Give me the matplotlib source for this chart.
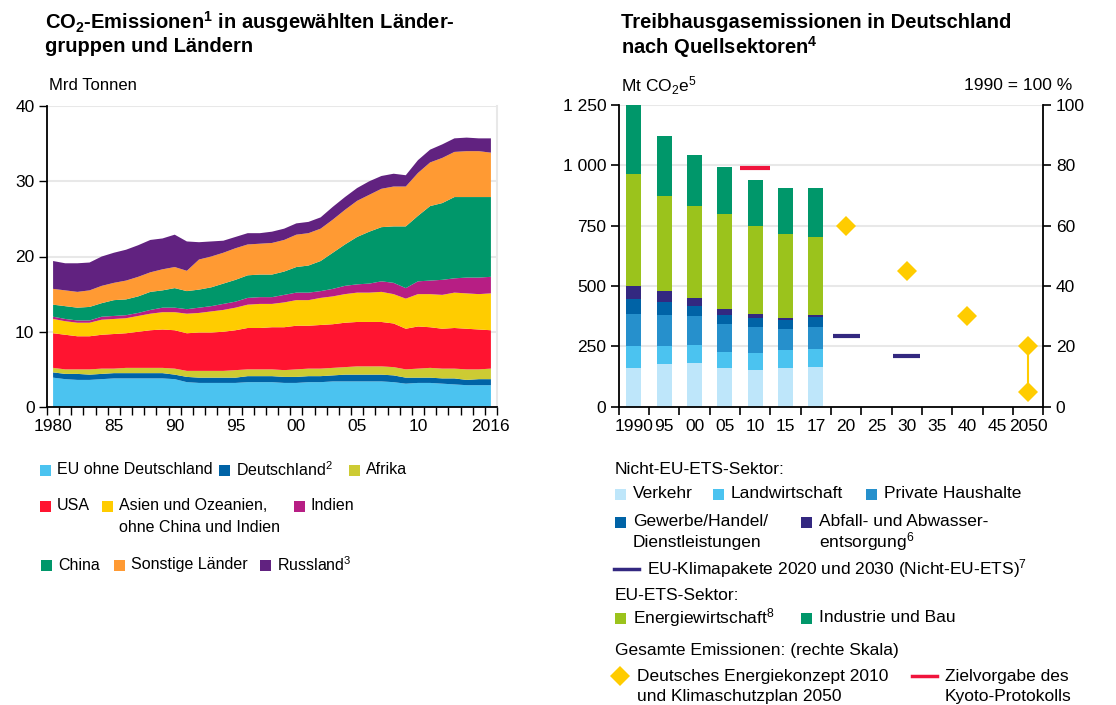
import numpy as np
import matplotlib.pyplot as plt
from matplotlib.patches import Rectangle
from matplotlib.lines import Line2D

plt.rcParams['font.family'] = ['Liberation Sans', 'DejaVu Sans']
plt.rcParams['mathtext.fontset'] = 'custom'
plt.rcParams['mathtext.rm'] = 'Liberation Sans'
plt.rcParams['mathtext.it'] = 'Liberation Sans:italic'
plt.rcParams['mathtext.bf'] = 'Liberation Sans:bold'

# ---- left chart: CO2 emissions by region, Mrd Tonnen ----
years = list(range(1980, 2017))
eu = [3.9, 3.7, 3.6, 3.6, 3.7, 3.8, 3.8, 3.8, 3.8, 3.8, 3.7, 3.3, 3.2, 3.2, 3.2, 3.2, 3.3, 3.3, 3.3,
      3.2, 3.2, 3.3, 3.3, 3.4, 3.4, 3.4, 3.4, 3.4, 3.3, 3.1, 3.2, 3.2, 3.1, 3.0, 2.9, 2.9, 2.9]
de = [0.7, 0.7, 0.8, 0.7, 0.7, 0.7, 0.7, 0.7, 0.7, 0.7, 0.6, 0.7, 0.7, 0.7, 0.7, 0.7, 0.8, 0.8, 0.8,
      0.8, 0.8, 0.8, 0.8, 0.8, 0.9, 0.9, 0.9, 0.9, 0.9, 0.8, 0.7, 0.7, 0.7, 0.8, 0.7, 0.8, 0.8]
afrika = [0.6, 0.6, 0.6, 0.7, 0.7, 0.6, 0.7, 0.7, 0.7, 0.7, 0.8, 0.8, 0.9, 0.9, 0.9, 1.0, 0.9, 0.9, 0.9,
          0.9, 1.0, 1.0, 1.0, 1.0, 1.0, 1.1, 1.1, 1.1, 1.1, 1.1, 1.2, 1.3, 1.3, 1.3, 1.4, 1.3, 1.4]
usa = [4.6, 4.6, 4.4, 4.4, 4.5, 4.6, 4.6, 4.8, 5.0, 5.1, 5.1, 5.0, 5.1, 5.1, 5.2, 5.3, 5.5, 5.5, 5.6,
       5.7, 5.8, 5.7, 5.8, 5.8, 5.9, 5.9, 5.9, 5.9, 5.8, 5.4, 5.6, 5.4, 5.3, 5.4, 5.4, 5.3, 5.1]
asien = [1.9, 1.8, 1.8, 1.8, 2.0, 2.0, 2.0, 2.1, 2.2, 2.3, 2.4, 2.6, 2.6, 2.8, 2.9, 3.0, 3.1, 3.2, 3.1,
         3.3, 3.4, 3.4, 3.6, 3.7, 3.8, 3.9, 3.9, 4.0, 3.9, 4.0, 4.3, 4.4, 4.5, 4.7, 4.7, 4.7, 4.9]
indien = [0.3, 0.3, 0.3, 0.3, 0.4, 0.4, 0.4, 0.4, 0.5, 0.6, 0.6, 0.6, 0.7, 0.7, 0.8, 0.8, 0.9, 0.9, 0.9,
          1.0, 1.0, 1.0, 0.9, 1.0, 1.1, 1.1, 1.2, 1.4, 1.5, 1.4, 1.7, 1.8, 2.0, 1.9, 2.1, 2.2, 2.2]
china = [1.6, 1.7, 1.7, 1.8, 1.8, 2.1, 2.1, 2.2, 2.4, 2.3, 2.6, 2.4, 2.4, 2.5, 2.7, 2.9, 3.0, 3.0, 3.0,
         3.1, 3.4, 3.6, 4.0, 4.8, 5.5, 6.3, 6.9, 7.2, 7.5, 8.2, 8.7, 9.9, 10.2, 10.8, 10.7, 10.7, 10.6]
sonstige = [2.1, 2.1, 2.1, 2.2, 2.3, 2.3, 2.5, 2.6, 2.6, 2.8, 2.8, 2.7, 4.0, 4.1, 4.1, 4.2, 4.1, 4.1, 4.2,
            4.2, 4.3, 4.3, 4.3, 4.4, 4.6, 4.8, 4.9, 5.1, 5.3, 5.3, 5.7, 5.8, 6.0, 6.0, 6.1, 6.1, 5.9]
russland = [3.7, 3.6, 3.8, 3.7, 3.9, 4.0, 4.1, 4.2, 4.3, 4.1, 4.3, 3.9, 2.3, 2.0, 1.6, 1.5, 1.5, 1.4, 1.5,
            1.5, 1.5, 1.5, 1.5, 1.7, 1.7, 1.7, 1.8, 1.7, 1.7, 1.5, 1.7, 1.7, 1.8, 1.8, 1.8, 1.7, 1.9]
left_labels = ['EU ohne Deutschland', 'Deutschland$^2$', 'Afrika', 'USA',
               'Asien und Ozeanien,\nohne China und Indien', 'Indien', 'China',
               'Sonstige Länder', 'Russland$^3$']
left_colors = ['#4BC3F0', '#0063A6', '#CDCB33', '#FF1430', '#FFCC00', '#B71E84',
               '#00976A', '#FF9A33', '#612280']
left_year_labels = ['1980', '85', '90', '95', '00', '05', '10', '2016']
left_year_pos = [1980, 1985, 1990, 1995, 2000, 2005, 2010, 2016]

# ---- right chart: greenhouse gas emissions Germany, Mt CO2e ----
cats = ['1990', '95', '00', '05', '10', '15', '17', '20', '25', '30', '35', '40', '45', '2050']
bar_cats = 7
verkehr = [160, 177, 181, 160, 152, 160, 164]
landwirtschaft = [91, 74, 75, 67, 70, 75, 75]
haushalte = [133, 129, 120, 116, 108, 87, 91]
gewerbe = [62, 54, 41, 37, 37, 37, 42]
abfall = [54, 45, 33, 25, 17, 8, 8]
energie = [464, 394, 381, 393, 365, 348, 323]
industrie = [286, 249, 212, 195, 190, 191, 203]
sector_colors = ['#BEE6FA', '#4BC3F0', '#2690CC', '#0063A6', '#332880', '#9BC31C', '#00976A']
klima_cat = [7, 9]
klima_mt = [294, 210]
kyoto_cat = [4]
kyoto_pct = [79]
konzept_cat = [7, 9, 11, 13, 13]
konzept_pct = [60, 45, 30, 20, 5]

W, H = 1116, 705
fig = plt.figure(figsize=(W / 100, H / 100), dpi=100)


def fx(x):
    return x / W


def fy(y):
    return 1 - y / H


grid_c = '#E8E8E8'
tick_fs = 12.5
title_fs = 14.5

# ================= left chart =================
axl = fig.add_axes([fx(47), fy(407), fx(497) - fx(47), fy(106) - fy(407)])
axl.stackplot(years, eu, de, afrika, usa, asien, indien, china, sonstige, russland,
              colors=left_colors, linewidth=0, zorder=2)
axl.set_xlim(1979.5, 2016.5)
axl.set_ylim(0, 40)
axl.set_yticks([0, 10, 20, 30, 40])
axl.yaxis.grid(True, color=grid_c, linewidth=1.5, zorder=0)
axl.set_axisbelow(True)
axl.set_xticks(np.arange(1979.5, 2017, 1.0))
axl.set_xticklabels([])
axl.set_xticks(left_year_pos, minor=True)
axl.set_xticklabels(left_year_labels, minor=True)
axl.tick_params(axis='x', which='major', length=6, width=1, color='black')
axl.tick_params(axis='x', which='minor', length=0, pad=9, labelsize=tick_fs)
axl.tick_params(axis='y', length=6, width=1, pad=3, labelsize=tick_fs)
axl.spines['top'].set_visible(False)
axl.spines['right'].set_color(grid_c)
axl.spines['right'].set_linewidth(1.5)
axl.spines['left'].set_linewidth(1.3)
axl.spines['bottom'].set_linewidth(1.3)

fig.text(fx(45), fy(22), 'CO$_\\mathbf{2}$-Emissionen$^\\mathbf{1}$ in ausgewählten Länder-',
         fontsize=title_fs, fontweight='bold', va='center')
fig.text(fx(45), fy(47), 'gruppen und Ländern', fontsize=title_fs, fontweight='bold', va='center')
fig.text(fx(49), fy(86), 'Mrd Tonnen', fontsize=12, va='center')


def square(x, y, c, s=11):
    fig.add_artist(Rectangle((fx(x), fy(y + s / 2)), s / W, s / H, color=c,
                             transform=fig.transFigure, linewidth=0))


def label(x, y, s, fs=12.5, **kw):
    fig.text(fx(x), fy(y), s, fontsize=fs, va='center', **kw)


left_leg_xy = [(40, 470), (219, 470), (349, 470), (40, 506), (102, 506), (294, 506),
               (41, 565), (114, 565), (260, 565)]
for (x, y), lab, c in zip(left_leg_xy, left_labels, left_colors):
    square(x, y, c)
    for i, line in enumerate(lab.split('\n')):
        label(x + 17, y + i * 21, line, fs=11.5)

# ================= right chart =================
axr = fig.add_axes([fx(618.7), fy(406.7), fx(1043.3) - fx(618.7), fy(105) - fy(406.7)])
xb = np.arange(bar_cats)
bottom = np.zeros(bar_cats)
for vals, c in zip([verkehr, landwirtschaft, haushalte, gewerbe, abfall, energie, industrie],
                   sector_colors):
    axr.bar(xb, vals, width=0.5, bottom=bottom, color=c, linewidth=0, zorder=2)
    bottom += np.array(vals)
for c, v in zip(klima_cat, klima_mt):
    axr.hlines(v, c - 0.45, c + 0.45, color='#332880', linewidth=3, zorder=3)
axr.set_xlim(-0.5, len(cats) - 0.5)
axr.set_ylim(0, 1250)
axr.set_yticks([0, 250, 500, 750, 1000, 1250])
axr.set_yticklabels(['0', '250', '500', '750', '1 000', '1 250'])
axr.yaxis.grid(True, color=grid_c, linewidth=1.5, zorder=0)
axr.set_axisbelow(True)
axr.set_xticks(np.arange(-0.5, len(cats), 1.0))
axr.set_xticklabels([])
axr.set_xticks(np.arange(len(cats)), minor=True)
axr.set_xticklabels(cats, minor=True)
axr.tick_params(axis='x', which='major', length=6, width=1.2)
axr.tick_params(axis='x', which='minor', length=0, pad=9, labelsize=tick_fs)
axr.tick_params(axis='y', length=6, width=1.2, pad=3, labelsize=tick_fs)
for s in ['top', 'right']:
    axr.spines[s].set_visible(False)
axr.spines['left'].set_linewidth(1.3)
axr.spines['bottom'].set_linewidth(1.3)

ax2 = axr.twinx()
ax2.set_ylim(0, 100)
ax2.set_yticks([0, 20, 40, 60, 80, 100])
ax2.tick_params(axis='y', length=6, width=1.2, pad=3, labelsize=tick_fs)
for s in ['top', 'left', 'bottom']:
    ax2.spines[s].set_visible(False)
ax2.spines['right'].set_linewidth(1.3)
for c, v in zip(kyoto_cat, kyoto_pct):
    ax2.hlines(v, c - 0.5, c + 0.5, color='#F0143C', linewidth=3, zorder=3)
ax2.plot(konzept_cat[-2:], konzept_pct[-2:], color='#FFCC00', linewidth=1.5, zorder=3)
ax2.plot(konzept_cat, konzept_pct, linestyle='none', marker='D', markersize=10,
         color='#FFCC00', markeredgewidth=0, zorder=4)

fig.text(fx(621), fy(22), 'Treibhausgasemissionen in Deutschland', fontsize=title_fs,
         fontweight='bold', va='center')
fig.text(fx(621), fy(47), 'nach Quellsektoren$^\\mathbf{4}$', fontsize=title_fs,
         fontweight='bold', va='center')
fig.text(fx(621), fy(86), 'Mt CO$_2$e$^5$', fontsize=12.5, va='center')
fig.text(fx(1072), fy(86), '1990 = 100 %', fontsize=12.5, va='center', ha='right')

# right legend
label(615, 469, 'Nicht-EU-ETS-Sektor:')
right_leg = [(615, 494, 'Verkehr'), (713, 494, 'Landwirtschaft'), (866, 494, 'Private Haushalte'),
             (615, 522, 'Gewerbe/Handel/\nDienstleistungen'),
             (801, 522, 'Abfall- und Abwasser-\nentsorgung$^6$')]
for (x, y, lab), c in zip(right_leg, sector_colors[:5]):
    square(x, y, c)
    for i, line in enumerate(lab.split('\n')):
        label(x + 18, y + i * 20, line)
fig.add_artist(Line2D([fx(614), fx(639)], [fy(569), fy(569)], color='#332880', linewidth=2.5))
label(647, 569, 'EU-Klimapakete 2020 und 2030 (Nicht-EU-ETS)$^7$')
label(615, 595, 'EU-ETS-Sektor:')
for (x, lab), c in zip([(615, 'Energiewirtschaft$^8$'), (801, 'Industrie und Bau')],
                       sector_colors[5:]):
    square(x, 618, c)
    label(x + 18, 618, lab)
label(615, 650, 'Gesamte Emissionen: (rechte Skala)')
fig.add_artist(Line2D([fx(620)], [fy(676)], marker='D', markersize=10, color='#FFCC00',
                      markeredgewidth=0, linestyle='none'))
label(637, 676, 'Deutsches Energiekonzept 2010')
label(637, 697, 'und Klimaschutzplan 2050')
fig.add_artist(Line2D([fx(912), fx(937)], [fy(676), fy(676)], color='#F0143C', linewidth=2.5))
label(945, 676, 'Zielvorgabe des')
label(945, 697, 'Kyoto-Protokolls')

fig.savefig('out.png', dpi=100)
